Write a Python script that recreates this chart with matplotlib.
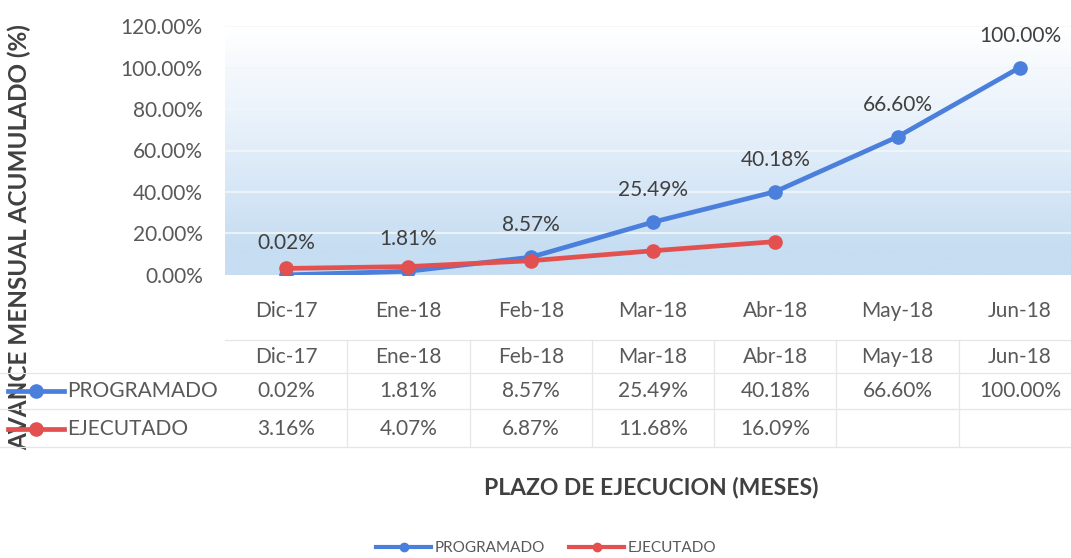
import numpy as np
import matplotlib
matplotlib.use("Agg")
import matplotlib.pyplot as plt
from matplotlib.lines import Line2D
from matplotlib.transforms import blended_transform_factory
from matplotlib.colors import LinearSegmentedColormap

# Data
months = ["Dic-17", "Ene-18", "Feb-18", "Mar-18", "Abr-18", "May-18", "Jun-18"]
programado = [0.02, 1.81, 8.57, 25.49, 40.18, 66.60, 100.00]
ejecutado = [3.16, 4.07, 6.87, 11.68, 16.09]
series_names = ["PROGRAMADO", "EJECUTADO"]
yticks = [0, 20, 40, 60, 80, 100, 120]

BLUE = "#4a7fdc"
RED = "#e2504f"
TXT = "#595959"
DARK = "#404040"
FONT = "Lato"
FS = 15

W, H = 1071, 558
fig = plt.figure(figsize=(W / 100, H / 100), dpi=100)
fig.patch.set_facecolor("white")


def fy(py):
    return 1 - py / H


def fx(px):
    return px / W


ax = fig.add_axes([fx(225), fy(275), fx(1071) - fx(225), fy(26) - fy(275)])
ax.set_facecolor("white")
x = np.arange(len(months))
XLIM = (-0.5, len(months) - 0.5 - 10 / 122.4)

# soft blue gradient background of the plot area (strongest at the bottom)
t = np.linspace(0, 1, 256)
shade = np.clip((1 - t) / 0.9, 0, 1) ** 0.9
cmap = LinearSegmentedColormap.from_list("bg", ["#ffffff", "#e6f0fa", "#c6ddf2"])
ax.imshow(shade.reshape(-1, 1), aspect="auto", cmap=cmap, vmin=0, vmax=1,
          extent=[-0.5, len(months), 0, 118], origin="lower", zorder=0)
ax.set_xlim(*XLIM)
ax.set_ylim(0, 120)

for yt in yticks[1:]:
    ax.axhline(yt, color="#f3f6f9", lw=1.2, zorder=1)

for s in ax.spines.values():
    s.set_visible(False)

ax.plot(x, programado, color=BLUE, lw=3.4, marker="o", ms=9.5, zorder=3,
        solid_capstyle="round")
ax.plot(x[:len(ejecutado)], ejecutado, color=RED, lw=3.4, marker="o", ms=9.5, zorder=4,
        solid_capstyle="round")

for xi, v in zip(x, programado):
    ax.annotate(f"{v:.2f}%", (xi, v), xytext=(0, 23), textcoords="offset points",
                ha="center", va="center", fontsize=FS, color=DARK, family=FONT)

ax.set_yticks(yticks)
ax.set_yticklabels([f"{v:.2f}%" for v in yticks], fontsize=FS, color=TXT, family=FONT)
ax.set_xticks(x)
ax.set_xticklabels(months, fontsize=FS, color=TXT, family=FONT)
ax.tick_params(axis="y", length=0, pad=16)
ax.tick_params(axis="x", length=0, pad=19)

# data table below the chart
trans = blended_transform_factory(ax.transData, fig.transFigure)
ftr = fig.transFigure
GRID = "#e6e6e6"
for py, x0 in [(340, 225), (373, 0), (409, 0), (447, 0)]:
    fig.add_artist(Line2D([fx(x0), 1], [fy(py), fy(py)], transform=ftr, color=GRID, lw=0.9))
for b in np.arange(len(months) - 1) + 0.5:
    fig.add_artist(Line2D([b, b], [fy(340), fy(447)], transform=trans, color=GRID, lw=0.9))

for xi, m in zip(x, months):
    fig.text(xi, fy(357), m, transform=trans, ha="center", va="center",
             fontsize=FS, color=TXT, family=FONT)
for xi, v in zip(x, programado):
    fig.text(xi, fy(391), f"{v:.2f}%", transform=trans, ha="center", va="center",
             fontsize=FS, color=TXT, family=FONT)
for xi, v in zip(x, ejecutado):
    fig.text(xi, fy(429), f"{v:.2f}%", transform=trans, ha="center", va="center",
             fontsize=FS, color=TXT, family=FONT)

# axis titles
fig.text(fx(19), fy(237), "AVANCE MENSUAL ACUMULADO (%)", rotation=90, ha="center",
         va="center", fontsize=17.5, fontweight="bold", color=DARK, family=FONT, zorder=1)
fig.text(fx(651), fy(488), "PLAZO DE EJECUCION (MESES)", ha="center", va="center",
         fontsize=16.5, fontweight="bold", color=DARK, family=FONT)

# legend keys in the table's row headers
for py, col, name in [(391, BLUE, series_names[0]), (429, RED, series_names[1])]:
    fig.add_artist(Line2D([fx(8), fx(64)], [fy(py), fy(py)], transform=ftr, color=col,
                          lw=3.4, zorder=5))
    fig.add_artist(Line2D([fx(36)], [fy(py)], transform=ftr, color=col, marker="o",
                          ms=9.5, zorder=5))
    fig.text(fx(67), fy(py), name, ha="left", va="center", fontsize=FS, color=TXT,
             family=FONT, zorder=6)

handles = [Line2D([], [], color=BLUE, lw=3, marker="o", ms=6),
           Line2D([], [], color=RED, lw=3, marker="o", ms=6)]
fig.legend(handles, series_names, loc="center", bbox_to_anchor=(fx(546), fy(548)),
           ncol=2, frameon=False, prop={"family": FONT, "size": 11}, labelcolor=TXT,
           handlelength=3.6, handletextpad=0.2, columnspacing=1.6)

fig.savefig("out.png", dpi=100, facecolor="white")
